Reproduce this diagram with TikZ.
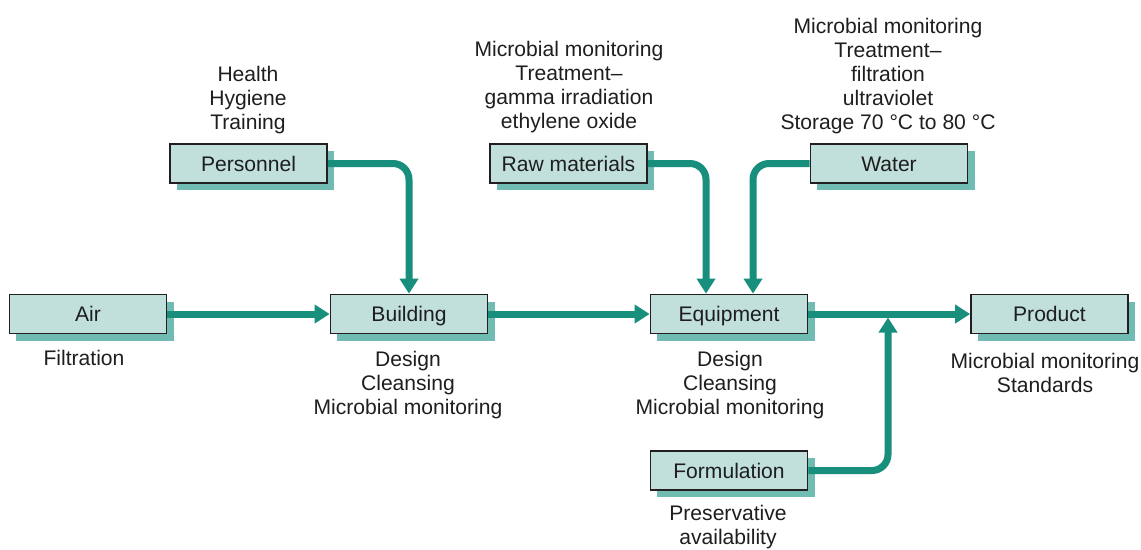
\documentclass[tikz,border=0pt]{standalone}
\usepackage{fontspec}
\setmainfont{Liberation Sans}
\usepackage{xcolor}
\definecolor{ArrowTeal}{RGB}{24,142,124}
\definecolor{FillTeal}{RGB}{193,224,220}
\definecolor{ShadowTeal}{RGB}{112,188,178}
\definecolor{BoxBorder}{RGB}{35,31,32}
\definecolor{TextDark}{RGB}{30,30,30}
\usepackage{tikz}
\usetikzlibrary{
  arrows.meta,
  calc, shadows
}
\tikzset{
  % Stage box with offset teal shadow
  sbox/.style={
    rectangle, draw=BoxBorder, line width=1.2pt,
    fill=FillTeal, text=TextDark,
    minimum width=3.925cm, minimum height=0.975cm,
    inner sep=0pt, text height=10.7pt, text depth=0pt,
    font=\fontsize{15}{17.07}\selectfont,
    copy shadow={shadow xshift=0.175cm, shadow yshift=-0.175cm,
                 fill=ShadowTeal, draw=none}
  },
  % Control notes next to boxes
  note/.style={
    align=center, inner sep=0pt, text=TextDark,
    font=\fontsize{15}{17.07}\selectfont
  },
  % Flow arrows
  flow/.style={-{Triangle[length=0.375cm,width=0.45cm]},
    line width=0.175cm, ArrowTeal, rounded corners=0.4cm},
}

\begin{document}
\begin{tikzpicture}[x=0.025cm, y=-0.025cm]
  \useasboundingbox (0,0) rectangle (1141,549);

  %% Stage boxes
  \node[sbox] (air)   at (88,314)      {Air};
  \node[sbox] (bldg)  at (409,314)     {Building};
  \node[sbox] (equip) at (729,314)     {Equipment};
  \node[sbox] (prod)  at (1049.5,314)  {Product};
  \node[sbox] (pers)  at (248.5,163.5) {Personnel};
  \node[sbox] (raw)   at (568.5,163.5) {Raw materials};
  \node[sbox] (water) at (889,163.5)   {Water};
  \node[sbox] (form)  at (729,470.5)   {Formulation};

  %% Notes
  \node[note] (persnote)  at (248,100)   {Health\\Hygiene\\Training};
  \node[note] (airnote)   at (84,358)    {Filtration};
  \node[note] (bldgnote)  at (408,385)   {Design\\Cleansing\\Microbial monitoring};
  \node[note] (rawnote)   at (569,87)    {Microbial monitoring\\Treatment--\\gamma irradiation\\ethylene oxide};
  \node[note] (waternote) at (888,76)    {Microbial monitoring\\Treatment--\\filtration\\ultraviolet\\Storage 70~°C to 80~°C};
  \node[note] (equipnote) at (730,385)   {Design\\Cleansing\\Microbial monitoring};
  \node[note] (prodnote)  at (1045,372.5){Microbial monitoring\\Standards};
  \node[note] (formnote)  at (728,527.5) {Preservative\\availability};

  %% Flows
  \draw[flow] (air.east) -- (bldg.west);
  \draw[flow] (bldg.east) -- (equip.west);
  \draw[flow] (equip.east) -- (prod.west);
  \draw[flow] (pers.east) -| (bldg.north);
  \draw[flow] (raw.east) -| ($(equip.north)+(-23,0)$);
  \draw[flow] (water.west) -| ($(equip.north)+(24,0)$);
  \coordinate (join) at (888,317.5);
  \draw[flow] (form.east) -| (join);

\end{tikzpicture}
\end{document}
